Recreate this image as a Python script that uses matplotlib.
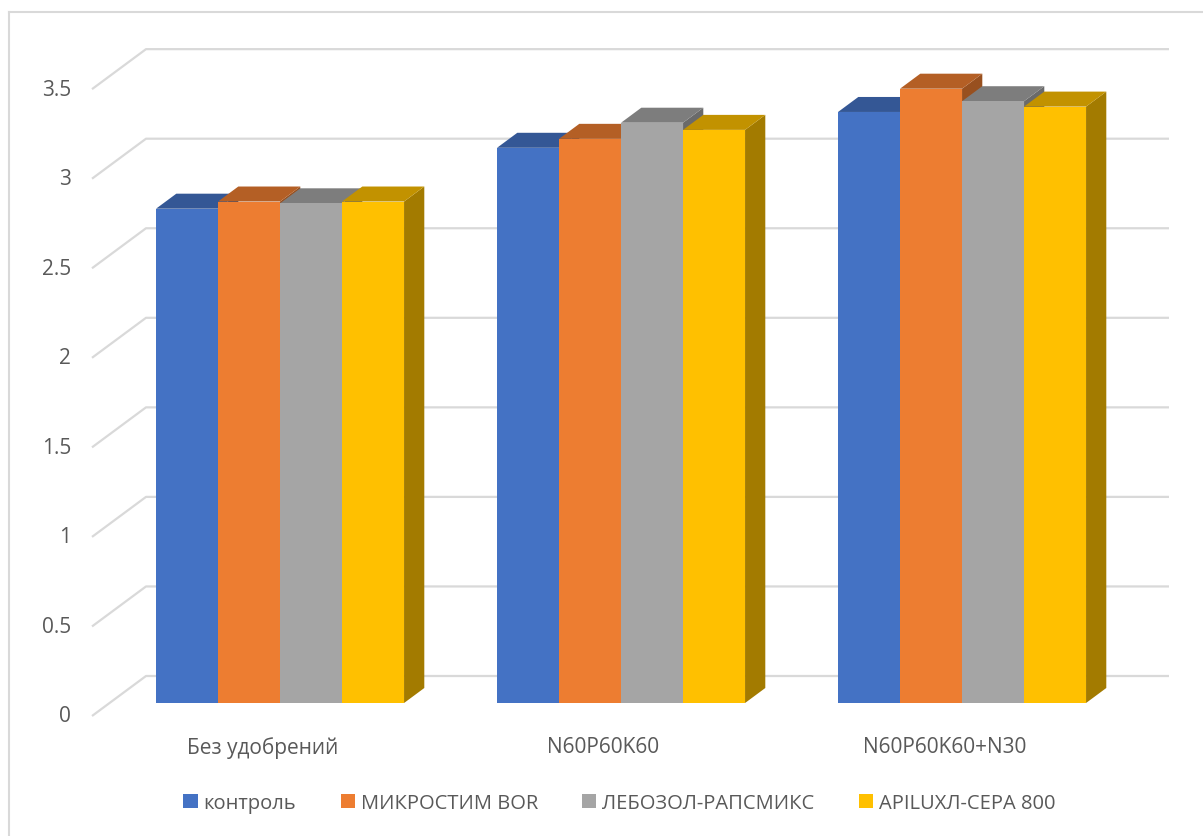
import numpy as np
import matplotlib.pyplot as plt
from matplotlib.patches import Polygon, Patch
from matplotlib.lines import Line2D

plt.rcParams['font.family'] = ['Open Sans', 'DejaVu Sans']

categories = ['Без удобрений', 'N60P60K60', 'N60P60K60+N30']
series_names = ['контроль', 'МИКРОСТИМ BOR', 'ЛЕБОЗОЛ-РАПСМИКС', 'APILUXЛ-СЕРА 800']
kontrol = [2.76, 3.10, 3.30]
mikrostim = [2.80, 3.15, 3.43]
lebozol = [2.79, 3.24, 3.36]
apilux = [2.80, 3.20, 3.33]
series_values = [kontrol, mikrostim, lebozol, apilux]
colors = ['#4472C4', '#ED7D31', '#A5A5A5', '#FFC000']
y_ticks = [0, 0.5, 1, 1.5, 2, 2.5, 3, 3.5]
y_tick_labels = ['0', '0.5', '1', '1.5', '2', '2.5', '3', '3.5']

# oblique "3D" projection: depth 0 = front of the floor, 1 = back wall
PX_X = 62.0      # pixels per bar width
PX_Y = 179.1     # pixels per value unit
DX = 54.0 / PX_X
DY = 40.0 / PX_Y
BAR_D0, BAR_D1 = 0.325, 0.70
GAP = 1.5
GROUP = len(series_names) + GAP
FLOOR_W = GROUP * len(categories)
TEXT = '#595959'
GRID = '#d9d9d9'


def proj(x, y, d):
    return x + d * DX, y + d * DY


def shade(c, k):
    r, g, b = [int(c[i:i + 2], 16) / 255 for i in (1, 3, 5)]
    return (r * k, g * k, b * k)


fig = plt.figure(figsize=(12.03, 8.37), dpi=100)
ax = fig.add_axes([0, 0, 1, 1])
ax.set_xlim(-92 / PX_X, (1203 - 92) / PX_X)
ax.set_ylim((717 - 837) / PX_Y, 717 / PX_Y)
ax.axis('off')

# gridlines: diagonal on the left side wall + horizontal on the back wall
for v, lab in zip(y_ticks, y_tick_labels):
    p0 = proj(0, v, 0)
    p1 = proj(0, v, 1)
    p2 = proj(FLOOR_W, v, 1)
    ax.plot([p0[0], p1[0], p2[0]], [p0[1], p1[1], p2[1]], color=GRID,
            lw=1.6, zorder=1, solid_capstyle='butt')
    ax.text(p0[0] - 21 / PX_X, p0[1], lab, ha='right', va='center',
            fontsize=15, color=TEXT)

# bars, drawn left to right so later bars cover the hidden side faces
z = 2
for gi, cat in enumerate(categories):
    x0 = gi * GROUP + GAP / 2
    for si, vals in enumerate(series_values):
        v = vals[gi]
        xl = x0 + si
        xr = xl + 1
        c = colors[si]
        side = [proj(xr, 0, BAR_D0), proj(xr, 0, BAR_D1),
                proj(xr, v, BAR_D1), proj(xr, v, BAR_D0)]
        top = [proj(xl, v, BAR_D0), proj(xr, v, BAR_D0),
               proj(xr, v, BAR_D1), proj(xl, v, BAR_D1)]
        front = [proj(xl, 0, BAR_D0), proj(xr, 0, BAR_D0),
                 proj(xr, v, BAR_D0), proj(xl, v, BAR_D0)]
        ax.add_patch(Polygon(side, closed=True, fc=shade(c, 0.64), ec='none', zorder=z))
        ax.add_patch(Polygon(top, closed=True, fc=shade(c, 0.76), ec='none', zorder=z))
        ax.add_patch(Polygon(front, closed=True, fc=c, ec='none', zorder=z + 0.5))
        z += 1
    cx, cy = proj(gi * GROUP + GROUP / 2, 0, 0)
    ax.text(cx, cy - 31 / PX_Y, cat, ha='center', va='center',
            fontsize=15, color=TEXT)

handles = [Patch(facecolor=c, edgecolor='none', label=n)
           for c, n in zip(colors, series_names)]
fig.legend(handles=handles, loc='center', bbox_to_anchor=(0.515, 1 - 804 / 837),
           ncol=4, frameon=False, fontsize=14.5, handlelength=0.7,
           handleheight=0.7, handletextpad=0.3, columnspacing=2.2,
           labelcolor=TEXT)

# chart area border (top and left edges)
fig.add_artist(Line2D([9 / 1203, 1], [1 - 13 / 837, 1 - 13 / 837],
                      transform=fig.transFigure, color=GRID, lw=1.5))
fig.add_artist(Line2D([9 / 1203, 9 / 1203], [0, 1 - 13 / 837],
                      transform=fig.transFigure, color=GRID, lw=1.5))

fig.savefig('out.png', dpi=100)
